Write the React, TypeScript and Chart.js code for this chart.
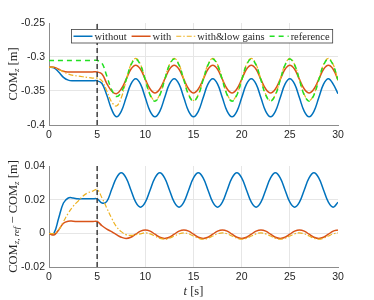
import React, { useEffect, useRef } from "react";
import { Chart, registerables } from "chart.js";

Chart.register(...registerables);

// ---------------- data ----------------
const time = [
  0, 0.5, 1, 1.5, 2, 2.5, 3, 3.5, 4, 4.5, 5, 5.5, 6, 6.5, 7, 7.5, 8, 8.5, 9, 9.5,
  10, 10.5, 11, 11.5, 12, 12.5, 13, 13.5, 14, 14.5, 15, 15.5, 16, 16.5, 17, 17.5, 18, 18.5, 19, 19.5,
  20, 20.5, 21, 21.5, 22, 22.5, 23, 23.5, 24, 24.5, 25, 25.5, 26, 26.5, 27, 27.5, 28, 28.5, 29, 29.5, 30,
];

const switchTime = 5;

// COM_z [m]
const topWithout = [
  -0.315, -0.316, -0.322, -0.33, -0.334, -0.335, -0.335, -0.335, -0.335, -0.335, -0.335, -0.339, -0.356, -0.377, -0.388, -0.38, -0.36, -0.34, -0.332,
  -0.34, -0.36, -0.38, -0.388, -0.38, -0.36, -0.34, -0.332,
  -0.34, -0.36, -0.38, -0.388, -0.38, -0.36, -0.34, -0.332,
  -0.34, -0.36, -0.38, -0.388, -0.38, -0.36, -0.34, -0.332,
  -0.34, -0.36, -0.38, -0.388, -0.38, -0.36, -0.34, -0.332,
  -0.34, -0.36, -0.38, -0.388, -0.38, -0.36, -0.34, -0.332,
  -0.34, -0.354,
];
const topWith = [
  -0.315, -0.315, -0.318, -0.321, -0.322, -0.322, -0.322, -0.322, -0.322, -0.322, -0.322, -0.325, -0.339, -0.35, -0.354, -0.347, -0.333, -0.318, -0.312,
  -0.318, -0.333, -0.347, -0.353, -0.347, -0.333, -0.318, -0.312,
  -0.318, -0.333, -0.347, -0.353, -0.347, -0.333, -0.318, -0.312,
  -0.318, -0.333, -0.347, -0.353, -0.347, -0.333, -0.318, -0.312,
  -0.318, -0.333, -0.347, -0.353, -0.347, -0.333, -0.318, -0.312,
  -0.318, -0.333, -0.347, -0.353, -0.347, -0.333, -0.318, -0.312,
  -0.318, -0.334,
];
const topLowGains = [
  -0.315, -0.315, -0.318, -0.322, -0.325, -0.327, -0.328, -0.329, -0.33, -0.331, -0.331, -0.335, -0.35, -0.366, -0.372, -0.36, -0.335, -0.311, -0.302,
  -0.311, -0.333, -0.355, -0.364, -0.355, -0.333, -0.311, -0.302,
  -0.311, -0.333, -0.355, -0.364, -0.355, -0.333, -0.311, -0.302,
  -0.311, -0.333, -0.355, -0.364, -0.355, -0.333, -0.311, -0.302,
  -0.311, -0.333, -0.355, -0.364, -0.355, -0.333, -0.311, -0.302,
  -0.311, -0.333, -0.355, -0.364, -0.355, -0.333, -0.311, -0.302,
  -0.311, -0.335,
];
const topReference = [
  -0.305, -0.305, -0.305, -0.305, -0.305, -0.305, -0.305, -0.305, -0.305, -0.305, -0.305, -0.309, -0.328, -0.348, -0.358, -0.352, -0.334, -0.312, -0.303,
  -0.312, -0.334, -0.356, -0.365, -0.356, -0.334, -0.312, -0.303,
  -0.312, -0.334, -0.356, -0.365, -0.356, -0.334, -0.312, -0.303,
  -0.312, -0.334, -0.356, -0.365, -0.356, -0.334, -0.312, -0.303,
  -0.312, -0.334, -0.356, -0.365, -0.356, -0.334, -0.312, -0.303,
  -0.312, -0.334, -0.356, -0.365, -0.356, -0.334, -0.312, -0.303,
  -0.312, -0.334,
];

// COM_z,ref - COM_z [m]
const botWithout = [
  0, 0.0, 0.009, 0.018, 0.021, 0.021, 0.0205, 0.0205, 0.0205, 0.0205, 0.0205, 0.018, 0.019, 0.026, 0.033, 0.036,
  0.033, 0.0258, 0.0185, 0.0155, 0.0185, 0.0258, 0.033, 0.036,
  0.033, 0.0258, 0.0185, 0.0155, 0.0185, 0.0258, 0.033, 0.036,
  0.033, 0.0258, 0.0185, 0.0155, 0.0185, 0.0258, 0.033, 0.036,
  0.033, 0.0258, 0.0185, 0.0155, 0.0185, 0.0258, 0.033, 0.036,
  0.033, 0.0258, 0.0185, 0.0155, 0.0185, 0.0258, 0.033, 0.036,
  0.033, 0.0258, 0.0185, 0.0155, 0.0185,
];
const botWith = [
  0, -0.001, 0.002, 0.006, 0.0072, 0.0072, 0.007, 0.007, 0.007, 0.007, 0.007, 0.0045, 0.0025, 0.001, -0.0008, -0.0023, -0.003,
  -0.0023, -0.0005, 0.0013, 0.002, 0.0013, -0.0005, -0.0023, -0.003,
  -0.0023, -0.0005, 0.0013, 0.002, 0.0013, -0.0005, -0.0023, -0.003,
  -0.0023, -0.0005, 0.0013, 0.002, 0.0013, -0.0005, -0.0023, -0.003,
  -0.0023, -0.0005, 0.0013, 0.002, 0.0013, -0.0005, -0.0023, -0.003,
  -0.0023, -0.0005, 0.0013, 0.002, 0.0013, -0.0005, -0.0023, -0.003,
  -0.0023, -0.0005, 0.0013, 0.002,
];
const botLowGains = [
  0, 0.0, 0.002, 0.007, 0.012, 0.016, 0.019, 0.022, 0.024, 0.025, 0.026, 0.021, 0.015, 0.009, 0.004, 0.001, -0.0008,
  -0.0012, -0.0008, -0.0003, 0.0003, -0.0003, -0.0016, -0.0029, -0.0035,
  -0.0029, -0.0016, -0.0003, 0.0003, -0.0003, -0.0016, -0.0029, -0.0035,
  -0.0029, -0.0016, -0.0003, 0.0003, -0.0003, -0.0016, -0.0029, -0.0035,
  -0.0029, -0.0016, -0.0003, 0.0003, -0.0003, -0.0016, -0.0029, -0.0035,
  -0.0029, -0.0016, -0.0003, 0.0003, -0.0003, -0.0016, -0.0029, -0.0035,
  -0.0029, -0.0016, -0.0003, 0.0003,
];

const seriesLabels = ["without", "with", "with&low gains", "reference"];

const xTicks = [0, 5, 10, 15, 20, 25, 30];
const xTickLabels = ["0", "5", "10", "15", "20", "25", "30"];
const topYTicks = [-0.4, -0.35, -0.3, -0.25];
const topYTickLabels = ["-0.4", "-0.35", "-0.3", "-0.25"];
const botYTicks = [-0.02, 0, 0.02, 0.04];
const botYTickLabels = ["-0.02", "0", "0.02", "0.04"];

// ---------------- styling ----------------
const SANS = "'Liberation Sans', Arial, Helvetica, sans-serif";
const SERIF = "'Liberation Serif', 'Times New Roman', serif";
const TEXT = "#262626";
const GRID = "#e6e6e6";
const AXIS = "#8c8c8c";

const BLUE = "#0072BD";
const RED = "#D95319";
const YELLOW = "#EDB120";
const GREEN = "#22e022";

const pts = (ys: number[]) => time.map((t, i) => ({ x: t, y: ys[i] }));

type Part = { t: string; size: number; italic?: boolean; sub?: boolean };

function drawParts(ctx: CanvasRenderingContext2D, parts: Part[], cx: number, cy: number, rotate: boolean) {
  ctx.save();
  ctx.translate(cx, cy);
  if (rotate) ctx.rotate(-Math.PI / 2);
  const fonts = parts.map((p) => `${p.italic ? "italic " : ""}${p.size}px ${SERIF}`);
  const widths = parts.map((p, i) => {
    ctx.font = fonts[i];
    return ctx.measureText(p.t).width;
  });
  const total = widths.reduce((a, b) => a + b, 0);
  let x = -total / 2;
  ctx.fillStyle = TEXT;
  ctx.textBaseline = "alphabetic";
  ctx.textAlign = "left";
  parts.forEach((p, i) => {
    ctx.font = fonts[i];
    ctx.fillText(p.t, x, 4 + (p.sub ? 2.8 : 0));
    x += widths[i];
  });
  ctx.restore();
}

function xScale(height: number) {
  const max = xTicks[xTicks.length - 1];
  return {
    type: "linear",
    min: xTicks[0],
    max,
    afterBuildTicks: (s: any) => {
      s.ticks = xTicks.map((v) => ({ value: v }));
    },
    afterFit: (s: any) => {
      s.height = height;
    },
    ticks: {
      autoSkip: false,
      maxRotation: 0,
      padding: 4,
      color: TEXT,
      font: { family: SANS, size: 10.5 },
      callback: (v: number) => {
        const i = xTicks.indexOf(v);
        return i >= 0 ? xTickLabels[i] : "";
      },
    },
    grid: {
      drawTicks: false,
      color: (c: any) => (c.tick && c.tick.value === max ? "rgba(0,0,0,0)" : GRID),
      lineWidth: 1,
    },
    border: { color: AXIS, width: 1 },
  };
}

function yScale(ticks: number[], labels: string[]) {
  const max = ticks[ticks.length - 1];
  return {
    type: "linear",
    min: ticks[0],
    max,
    afterBuildTicks: (s: any) => {
      s.ticks = ticks.map((v) => ({ value: v }));
    },
    afterFit: (s: any) => {
      s.width = 49;
    },
    ticks: {
      autoSkip: false,
      padding: 4,
      color: TEXT,
      font: { family: SANS, size: 10.5 },
      callback: (v: number) => {
        const i = ticks.findIndex((t) => Math.abs(t - v) < 1e-9);
        return i >= 0 ? labels[i] : "";
      },
    },
    grid: {
      drawTicks: false,
      color: (c: any) => (c.tick && Math.abs(c.tick.value - max) < 1e-9 ? "rgba(0,0,0,0)" : GRID),
      lineWidth: 1,
    },
    border: { color: AXIS, width: 1 },
  };
}

function switchLine(yMin: number, yMax: number) {
  return {
    data: [
      { x: switchTime, y: yMin },
      { x: switchTime, y: yMax },
    ],
    borderColor: "#404040",
    borderWidth: 1.5,
    borderDash: [5, 3],
    pointRadius: 0,
    tension: 0,
    order: 0,
  };
}

function seriesDatasets(ys: number[][], withReference: boolean) {
  const styles = [
    { borderColor: BLUE, borderWidth: 1.5, borderDash: [] as number[], order: 5 },
    { borderColor: RED, borderWidth: 1.5, borderDash: [] as number[], order: 4 },
    { borderColor: YELLOW, borderWidth: 1.2, borderDash: [5, 2, 1.5, 2], order: 3 },
    { borderColor: GREEN, borderWidth: 1.5, borderDash: [5, 4], order: 2 },
  ];
  return ys.map((y, i) => ({
    label: withReference ? seriesLabels[i] : undefined,
    data: pts(y),
    ...styles[i],
    pointRadius: 0,
    tension: 0.4,
    fill: false,
  }));
}

const legendPlugin = {
  id: "boxLegend",
  afterDatasetsDraw(chart: any) {
    const ctx: CanvasRenderingContext2D = chart.ctx;
    const items = chart.data.datasets.filter((d: any) => d.label);
    ctx.save();
    ctx.font = `10.5px ${SERIF}`;
    const sampleLen = 19, gapS = 2, gapI = 5, padL = 2, padR = 3;
    const widths = items.map((d: any) => ctx.measureText(d.label).width);
    const total =
      padL + items.reduce((a: number, _d: any, i: number) => a + sampleLen + gapS + widths[i], 0) + gapI * (items.length - 1) + padR;
    const right = chart.chartArea.right - 6;
    const left = Math.round(right - total) + 0.5;
    const top = chart.chartArea.top + 6.5;
    const h = 13.5;
    ctx.fillStyle = "#fff";
    ctx.fillRect(left, top, total, h);
    ctx.strokeStyle = "#404040";
    ctx.lineWidth = 0.8;
    ctx.strokeRect(left, top, total, h);
    let x = left + padL;
    const cy = top + h / 2;
    items.forEach((d: any, i: number) => {
      ctx.beginPath();
      ctx.setLineDash(d.borderDash || []);
      ctx.strokeStyle = d.borderColor;
      ctx.lineWidth = d.borderWidth;
      ctx.moveTo(x, cy);
      ctx.lineTo(x + sampleLen, cy);
      ctx.stroke();
      ctx.setLineDash([]);
      x += sampleLen + gapS;
      ctx.fillStyle = TEXT;
      ctx.textBaseline = "middle";
      ctx.textAlign = "left";
      ctx.fillText(d.label, x, cy + 0.5);
      x += widths[i] + gapI;
    });
    ctx.restore();
  },
};

const topTitlePlugin = {
  id: "topTitle",
  afterDraw(chart: any) {
    const a = chart.chartArea;
    drawParts(
      chart.ctx,
      [
        { t: "COM", size: 12.5 },
        { t: "z", size: 9, italic: true, sub: true },
        { t: " [m]", size: 12.5 },
      ],
      12.5,
      (a.top + a.bottom) / 2,
      true
    );
  },
};

const botTitlePlugin = {
  id: "botTitle",
  afterDraw(chart: any) {
    const a = chart.chartArea;
    drawParts(
      chart.ctx,
      [
        { t: "COM", size: 12.5 },
        { t: "z, ref", size: 9, italic: true, sub: true },
        { t: " \u2212 ", size: 12.5 },
        { t: "COM", size: 12.5 },
        { t: "z", size: 9, italic: true, sub: true },
        { t: " [m]", size: 12.5 },
      ],
      12.5,
      (a.top + a.bottom) / 2,
      true
    );
    drawParts(
      chart.ctx,
      [
        { t: "t", size: 12.5, italic: true },
        { t: " [s]", size: 12.5 },
      ],
      (a.left + a.right) / 2,
      145,
      false
    );
  },
};

export default function App() {
  const topRef = useRef<HTMLCanvasElement>(null);
  const botRef = useRef<HTMLCanvasElement>(null);

  useEffect(() => {
    const common = {
      responsive: false,
      maintainAspectRatio: false,
      animation: false,
      devicePixelRatio: 1,
      plugins: { legend: { display: false }, tooltip: { enabled: false } },
    };
    const top = new Chart(topRef.current!, {
      type: "line",
      data: {
        datasets: [
          ...seriesDatasets([topWithout, topWith, topLowGains, topReference], true),
          switchLine(topYTicks[0], topYTicks[topYTicks.length - 1]),
        ] as any,
      },
      options: {
        ...common,
        layout: { padding: { left: 0, top: 23, right: 36, bottom: 0 } },
        scales: {
          x: xScale(21) as any,
          y: yScale(topYTicks, topYTickLabels) as any,
        },
      } as any,
      plugins: [legendPlugin, topTitlePlugin],
    });
    const bot = new Chart(botRef.current!, {
      type: "line",
      data: {
        datasets: [
          ...seriesDatasets([botWithout, botWith, botLowGains], false),
          switchLine(botYTicks[0], botYTicks[botYTicks.length - 1]),
        ] as any,
      },
      options: {
        ...common,
        layout: { padding: { left: 0, top: 20, right: 36, bottom: 0 } },
        scales: {
          x: xScale(33) as any,
          y: yScale(botYTicks, botYTickLabels) as any,
        },
      } as any,
      plugins: [botTitlePlugin],
    });
    return () => {
      top.destroy();
      bot.destroy();
    };
  }, []);

  return (
    <div style={{ position: "absolute", left: 0, top: 0, width: 374, height: 300, background: "#fff" }}>
      <canvas
        ref={topRef}
        width={374}
        height={146}
        style={{ position: "absolute", left: 0, top: 0, width: 374, height: 146 }}
      />
      <canvas
        ref={botRef}
        width={374}
        height={154}
        style={{ position: "absolute", left: 0, top: 146, width: 374, height: 154 }}
      />
    </div>
  );
}
